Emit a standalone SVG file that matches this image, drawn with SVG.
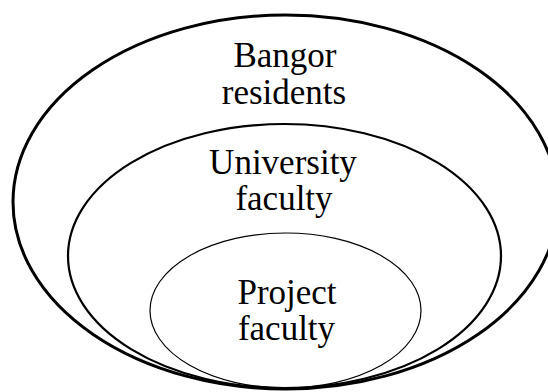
<svg xmlns="http://www.w3.org/2000/svg" width="548" height="392" viewBox="0 0 548 392">
<style>
.e{fill:none;stroke:#000}
.t{font-family:"Liberation Serif","Times New Roman",serif;font-size:35px;fill:#000;text-anchor:middle}
</style>
<rect width="548" height="392" fill="#fff"/>
<g id="bangor-residents">
<ellipse class="e" cx="285.5" cy="202" rx="272.5" ry="187" stroke-width="3"/>
<text class="t" x="285" y="67">Bangor</text>
<text class="t" x="284" y="104">residents</text>
</g>
<g id="university-faculty">
<ellipse class="e" cx="284.5" cy="256" rx="216.5" ry="132" stroke-width="2.2"/>
<text class="t" x="283" y="174">University</text>
<text class="t" x="284" y="210">faculty</text>
</g>
<g id="project-faculty">
<ellipse class="e" cx="285.5" cy="310.5" rx="135.5" ry="77.5" stroke-width="1.2"/>
<text class="t" x="287" y="304">Project</text>
<text class="t" x="286.5" y="340">faculty</text>
</g>
<g id="connectors"></g>
</svg>
